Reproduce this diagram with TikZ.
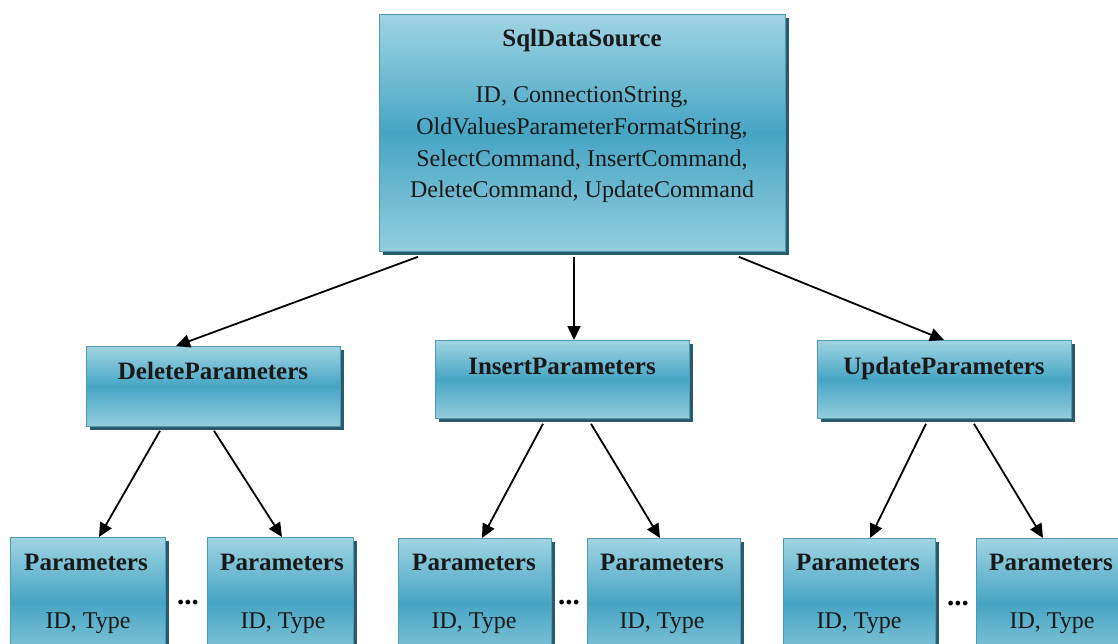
\documentclass[tikz,border=0pt]{standalone}
\usepackage{fontspec}
\setmainfont{Liberation Serif}
\usetikzlibrary{arrows.meta,shadows,calc}

\definecolor{boxtop}{RGB}{160,212,227}
\definecolor{boxmid}{RGB}{70,165,196}
\definecolor{boxbot}{RGB}{148,205,222}
\definecolor{boxedge}{RGB}{82,152,174}
\definecolor{boxshade}{RGB}{40,92,108}

\tikzset{
  box/.style={draw=boxedge, line width=0.8pt,
    top color=boxtop, bottom color=boxbot, middle color=boxmid,
    anchor=north west, inner sep=0pt,
    drop shadow={shadow xshift=4pt, shadow yshift=-4pt, opacity=1, fill=boxshade}},
  title/.style={font=\fontsize{25}{30}\selectfont\bfseries, anchor=base, inner sep=0pt, text=black!90},
  body/.style={font=\fontsize{24}{32}\selectfont, anchor=base, inner sep=0pt, text=black!90},
  ellip/.style={font=\fontsize{29}{30}\selectfont\bfseries, anchor=base, inner sep=0pt},
  link/.style={line width=1.8pt, -{Triangle[length=14pt,width=13pt]}},
}

\begin{document}
\begin{tikzpicture}[x=1pt, y=-1pt]
\clip (0,0) rectangle (1118,643);

% top-level data source
\node[box, minimum width=406pt, minimum height=237pt] (src) at (379,14) {};
\node[title] (srcT) at (582,46) {SqlDataSource};
\node[body] (srcL1) at (582,102) {ID, ConnectionString,};
\node[body] (srcL2) at (582,134) {OldValuesParameterFormatString,};
\node[body] (srcL3) at (582,166) {SelectCommand, InsertCommand,};
\node[body] (srcL4) at (582,197) {DeleteCommand, UpdateCommand};

% parameter collections
\node[box, minimum width=254pt, minimum height=80pt] (del) at (86,346) {};
\node[title] (delT) at (213,379) {DeleteParameters};
\node[box, minimum width=254pt, minimum height=78pt] (ins) at (435,340) {};
\node[title] (insT) at (562,374) {InsertParameters};
\node[box, minimum width=254pt, minimum height=78pt] (upd) at (817,340) {};
\node[title] (updT) at (944,374) {UpdateParameters};

% individual parameters
\node[box, minimum width=155pt, minimum height=130pt] (d1) at (10,537) {};
\node[box, minimum width=146pt, minimum height=130pt] (d2) at (207,537) {};
\node[box, minimum width=153pt, minimum height=130pt] (i1) at (398,538) {};
\node[box, minimum width=153pt, minimum height=130pt] (i2) at (587,538) {};
\node[box, minimum width=152pt, minimum height=130pt] (u1) at (783,538) {};
\node[box, minimum width=153pt, minimum height=130pt] (u2) at (976,538) {};

\node[title] (d1T) at (86,570) {Parameters};
\node[body]  (d1B) at (88,628) {ID, Type};
\node[title] (d2T) at (282,570) {Parameters};
\node[body]  (d2B) at (283,628) {ID, Type};
\node[title] (i1T) at (474,570) {Parameters};
\node[body]  (i1B) at (474,628) {ID, Type};
\node[title] (i2T) at (662,570) {Parameters};
\node[body]  (i2B) at (662,628) {ID, Type};
\node[title] (u1T) at (858,570) {Parameters};
\node[body]  (u1B) at (859,628) {ID, Type};
\node[title] (u2T) at (1051,570) {Parameters};
\node[body]  (u2B) at (1052,628) {ID, Type};

\node[ellip] (dDots) at (188,604) {...};
\node[ellip] (iDots) at (569,604) {...};
\node[ellip] (uDots) at (958,605) {...};

% connectors
\draw[link] ([xshift=39pt,yshift=-5pt]src.south west) -- ([xshift=90pt]del.north west);
\draw[link] ([xshift=195pt,yshift=-5pt]src.south west) -- ([xshift=139pt]ins.north west);
\draw[link] ([xshift=-47pt,yshift=-5pt]src.south east) -- ([xshift=127pt]upd.north west);

\draw[link] ([xshift=74pt,yshift=-4pt]del.south west) -- ([xshift=89pt]d1.north west);
\draw[link] ([xshift=128pt,yshift=-4pt]del.south west) -- ([xshift=75pt]d2.north west);
\draw[link] ([xshift=108pt,yshift=-5pt]ins.south west) -- ([xshift=84pt]i1.north west);
\draw[link] ([xshift=156pt,yshift=-5pt]ins.south west) -- ([xshift=73pt]i2.north west);
\draw[link] ([xshift=109pt,yshift=-5pt]upd.south west) -- ([xshift=87pt]u1.north west);
\draw[link] ([xshift=157pt,yshift=-5pt]upd.south west) -- ([xshift=67pt]u2.north west);
\end{tikzpicture}
\end{document}
